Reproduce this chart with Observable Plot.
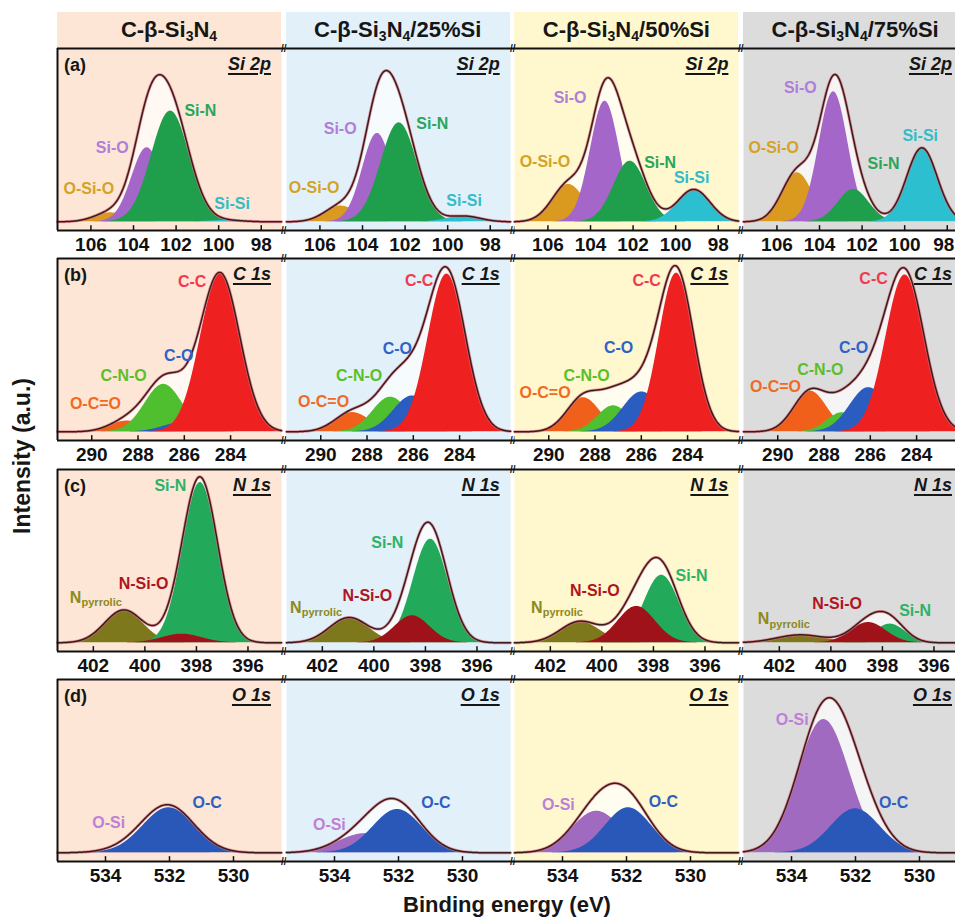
<!DOCTYPE html>
<html>
<head>
<meta charset="utf-8">
<script src="https://cdn.jsdelivr.net/npm/d3@7"></script>
<script src="https://cdn.jsdelivr.net/npm/@observablehq/plot@0.6"></script>
<style>
  body { margin: 0; background: #fff; }
  #fig { position: relative; width: 955px; height: 919px; overflow: hidden;
         font-family: "Liberation Sans", Arial, sans-serif; color: #161616; }
  #fig svg { max-width: none; }
  .hdr { position: absolute; top: 12px; height: 36px; line-height: 36px; text-align: center;
         font-weight: bold; font-size: 22px; white-space: nowrap; }
  .hdr sub { font-size: 14px; vertical-align: -4px; line-height: 0; }
  .tag { position: absolute; font-weight: bold; font-size: 18px; line-height: 20px; }
  .lvl { position: absolute; font-weight: bold; font-style: italic; font-size: 18px; line-height: 20px;
         text-align: right; text-decoration: underline; text-decoration-thickness: 2px;
         text-underline-offset: 3px; white-space: nowrap; }
  .panel { position: absolute; }
  .axlab { position: absolute; font-weight: bold; font-size: 22px; white-space: nowrap; }
</style>
</head>
<body>
<div id="fig"></div>
<script>
// Samples (columns) and core levels (rows)
const sampleNames = ["C-β-Si3N4", "C-β-Si3N4/25%Si", "C-β-Si3N4/50%Si", "C-β-Si3N4/75%Si"];
const sampleColors = ["#fde6d5", "#e2f0fa", "#fff7cd", "#dcdcdc"];
const coreLevels = ["Si 2p", "C 1s", "N 1s", "O 1s"];
const panelTags = ["(a)", "(b)", "(c)", "(d)"];

// Binding-energy window of each row (eV, high to low) and its tick labels
const energyDomains = [[107.57, 97.05], [291.48, 281.8], [403.39, 394.7], [535.5, 528.5]];
const tickValues = [[106, 104, 102, 100, 98], [290, 288, 286, 284], [402, 400, 398, 396], [534, 532, 530]];

// Fitted components: [sample, component, centre (eV), height (a.u.), FWHM (eV)]
const si2pPeaks = [
  [0, "O-Si-O", 105.08, 5.2, 1.8], [0, "Si-O", 103.36, 42.7, 1.7], [0, "Si-N", 102.26, 63.9, 2.1], [0, "Si-Si", 99.6, 0.8, 1.8],
  [1, "O-Si-O", 105.02, 9.1, 1.8], [1, "Si-O", 103.3, 51, 1.65], [1, "Si-N", 102.28, 57.1, 2.0], [1, "Si-Si", 99.23, 3.3, 1.8],
  [2, "O-Si-O", 105.04, 21.6, 1.8], [2, "Si-O", 103.32, 69.6, 1.6], [2, "Si-N", 102.14, 35, 1.8], [2, "Si-Si", 99.15, 18.7, 1.8],
  [3, "O-Si-O", 105.05, 28.3, 1.7], [3, "Si-O", 103.34, 75, 1.6], [3, "Si-N", 102.4, 18.7, 1.7], [3, "Si-Si", 99.19, 42.7, 1.7]
];
const c1sPeaks = [
  [0, "O-C=O", 288.47, 6.2, 1.8], [0, "C-N-O", 286.89, 27.4, 1.9], [0, "C-O", 286.09, 5.3, 1.9], [0, "C-C", 284.45, 91, 2.0],
  [1, "O-C=O", 288.63, 11.1, 1.8], [1, "C-N-O", 286.98, 20, 1.8], [1, "C-O", 286.04, 20.7, 1.9], [1, "C-C", 284.55, 91, 1.9],
  [2, "O-C=O", 288.5, 19.7, 1.7], [2, "C-N-O", 287.2, 15, 1.6], [2, "C-O", 285.98, 23, 1.9], [2, "C-C", 284.48, 91.5, 1.75],
  [3, "O-C=O", 288.59, 23.5, 1.7], [3, "C-N-O", 287.22, 11, 1.5], [3, "C-O", 286.07, 25.5, 1.9], [3, "C-C", 284.5, 90.5, 1.95]
];
const n1sPeaks = [
  [0, "N pyrrolic", 400.82, 18.9, 1.75], [0, "Si-N", 397.85, 92.5, 1.6], [0, "N-Si-O", 398.56, 5, 1.8],
  [1, "N pyrrolic", 400.96, 14.6, 1.8], [1, "Si-N", 397.8, 59.8, 1.6], [1, "N-Si-O", 398.51, 15.6, 1.6],
  [2, "N pyrrolic", 400.85, 12.3, 1.8], [2, "Si-N", 397.68, 39, 1.6], [2, "N-Si-O", 398.65, 21, 1.7],
  [3, "N pyrrolic", 401.18, 4.6, 2.2], [3, "Si-N", 397.7, 10.8, 1.4], [3, "N-Si-O", 398.54, 11.7, 1.6]
];
const o1sPeaks = [
  [0, "O-Si", 532.9, 2.9, 2.0], [0, "O-C", 532.02, 26, 1.9],
  [1, "O-Si", 533.02, 11.1, 2.0], [1, "O-C", 532.03, 25, 1.8],
  [2, "O-Si", 532.93, 24, 1.8], [2, "O-C", 531.94, 26, 1.7],
  [3, "O-Si", 532.99, 76.9, 1.9], [3, "O-C", 532.0, 25.4, 1.8]
];

// Component annotations: [sample, text, energy (eV), intensity (a.u.)]
const si2pLabels = [
  [0, "Si-N", 100.86, 64], [0, "Si-O", 105.0, 42.9], [0, "O-Si-O", 106.1, 18.9], [0, "Si-Si", 99.37, 10.2],
  [1, "Si-O", 105.05, 53.8], [1, "Si-N", 100.72, 56.7], [1, "O-Si-O", 106.27, 19.8], [1, "Si-Si", 99.23, 12.1],
  [2, "Si-O", 104.96, 71.7], [2, "O-Si-O", 106.14, 34.8], [2, "Si-N", 100.73, 34.2], [2, "Si-Si", 99.25, 25.4],
  [3, "Si-O", 104.9, 77.1], [3, "O-Si-O", 106.15, 42.9], [3, "Si-N", 100.99, 33.2], [3, "Si-Si", 99.27, 49.5]
];
const c1sLabels = [
  [0, "C-C", 285.66, 86.7], [0, "C-O", 286.24, 43.7], [0, "C-N-O", 288.62, 32.2], [0, "O-C=O", 289.84, 15.9],
  [1, "C-C", 285.75, 87], [1, "C-O", 286.69, 47.6], [1, "C-N-O", 288.34, 32.2], [1, "O-C=O", 289.88, 17.2],
  [2, "C-C", 285.77, 87], [2, "C-O", 286.98, 48.2], [2, "C-N-O", 288.36, 32.2], [2, "O-C=O", 290.16, 22.2],
  [3, "C-C", 285.86, 88], [3, "C-O", 286.72, 48.6], [3, "C-N-O", 288.16, 36], [3, "O-C=O", 290.1, 25.9]
];
const n1sLabels = [
  [0, "Si-N", 399.01, 90.6], [0, "N-Si-O", 400.05, 33.9], [0, "N_pyrrolic", 402.69, 26.1],
  [1, "Si-N", 399.48, 57.9], [1, "N-Si-O", 400.25, 27.1], [1, "N_pyrrolic", 403.03, 20.4],
  [2, "Si-N", 396.52, 38.7], [2, "N-Si-O", 400.27, 30], [2, "N_pyrrolic", 402.53, 20.4],
  [3, "Si-N", 396.73, 18.5], [3, "N-Si-O", 399.76, 22.3], [3, "N_pyrrolic", 402.61, 13.7]
];
const o1sLabels = [
  [0, "O-C", 530.82, 29], [0, "O-Si", 533.9, 17.1],
  [1, "O-C", 530.83, 29], [1, "O-Si", 534.16, 16],
  [2, "O-Si", 534.13, 27.5], [2, "O-C", 530.85, 29.2],
  [3, "O-Si", 533.98, 76.7], [3, "O-C", 530.81, 29]
];

// Fill and annotation colours of each component, per core level
const fillColors = [
  {"O-Si-O": "#d99a1f", "Si-O": "#a566c9", "Si-N": "#1f9f4b", "Si-Si": "#2cbfd0"},
  {"O-C=O": "#f0601a", "C-N-O": "#4fbf30", "C-O": "#2b5cbf", "C-C": "#ee2020"},
  {"N pyrrolic": "#7d781c", "Si-N": "#22aa5a", "N-Si-O": "#a0121a"},
  {"O-Si": "#a06ac0", "O-C": "#2a58b8"}
];
const labelColors = [
  {"O-Si-O": "#d4a326", "Si-O": "#b07ed8", "Si-N": "#2aa65a", "Si-Si": "#33bcc8"},
  {"O-C=O": "#f06a25", "C-N-O": "#5cbf2a", "C-O": "#2f62c8", "C-C": "#f03a50"},
  {"N_pyrrolic": "#8c8a22", "Si-N": "#2db368", "N-Si-O": "#b0141e"},
  {"O-Si": "#c07fd6", "O-C": "#2f5fc0"}
];

const levelPeaks = [si2pPeaks, c1sPeaks, n1sPeaks, o1sPeaks];
const levelLabels = [si2pLabels, c1sLabels, n1sLabels, o1sLabels];

// Grid layout of the panels (px)
const COL_X0 = 57, COL_PITCH = 228.7, PANEL_W = 224;
const ROW_Y0 = 48, ROW_PITCH = 210.3, PANEL_H = 182, AXIS_H = 34;
const Y_DOMAIN = [-5, 100];
const PAGE_W = 955;
const TICK_FONT = 19;
const FONT = "Liberation Sans, Arial, sans-serif";

const fig = document.getElementById("fig");

function addDiv(cls, html, style) {
  const d = document.createElement("div");
  d.className = cls;
  d.innerHTML = html;
  Object.assign(d.style, style);
  fig.appendChild(d);
  return d;
}

// Gaussian line shape of a fitted component
function lineShape(e, centre, height, fwhm) {
  return height * Math.exp(-4 * Math.LN2 * (e - centre) ** 2 / (fwhm * fwhm));
}

// Column headers
sampleNames.forEach((name, s) => {
  const html = name.replace("Si3N4", "Si<sub>3</sub>N<sub>4</sub>");
  addDiv("hdr", html, {left: (COL_X0 + s * COL_PITCH) + "px", width: PANEL_W + "px", background: sampleColors[s]});
});

coreLevels.forEach((level, r) => {
  const [e0, e1] = energyDomains[r];
  const evPerPx = (e0 - e1) / PANEL_W;
  const eGapEnd = e0 - COL_PITCH * evPerPx;
  const eGapMid = e0 - (PANEL_W + COL_PITCH) / 2 * evPerPx;
  const grid = d3.range(0, 501).map(i => e0 + (e1 - e0) * i / 500);

  sampleNames.forEach((_, s) => {
    const colLeft = COL_X0 + s * COL_PITCH;
    const peaks = levelPeaks[r].filter(p => p[0] === s);
    const comps = peaks.map(([, name, c, h, w]) => ({
      name, pts: grid.map(e => ({e, v: lineShape(e, c, h, w)}))
    }));
    const envelope = grid.map(e => ({e, v: d3.sum(peaks, p => lineShape(e, p[2], p[3], p[4]))}));

    const labels = levelLabels[r].filter(l => l[0] === s).map(([, text, e, v]) => ({text, e, v}));
    const mainLabels = labels.map(d => ({...d, main: d.text.split("_")[0]}));
    const subLabels = labels.filter(d => d.text.includes("_")).map(d => ({...d, sub: d.text.split("_")[1]}));

    // tick labels that would run past the page edge are nudged back inside it
    const overflowOf = t => colLeft + (e0 - t) / evPerPx + String(t).length * 0.556 * TICK_FONT / 2 - (PAGE_W - 1);
    const ticksIn = tickValues[r].filter(t => overflowOf(t) <= 0);
    const ticksOut = tickValues[r].filter(t => overflowOf(t) > 0);
    const axisOpts = {tickSize: 0, tickPadding: 7, fontSize: TICK_FONT, fontWeight: "bold", fill: "#111", label: null};

    const marks = [
      Plot.frame({fill: sampleColors[s], stroke: null}),
      Plot.areaY(envelope, {x: "e", y: "v", fill: "#ffffff", fillOpacity: 0.7}),
      ...comps.map(c => Plot.areaY(c.pts, {x: "e", y: "v", fill: fillColors[r][c.name]})),
      Plot.line(envelope, {x: "e", y: "v", stroke: "#d8707e", strokeWidth: 3, strokeOpacity: 0.7}),
      Plot.line(envelope, {x: "e", y: "v", stroke: "#3b1b1c", strokeWidth: 1.5}),
      Plot.ruleY([Y_DOMAIN[1], Y_DOMAIN[0]], {x1: e0, x2: eGapEnd, stroke: "#111", strokeWidth: 2}),
      s === 0 ? Plot.ruleX([e0], {y1: Y_DOMAIN[0], y2: Y_DOMAIN[1], stroke: "#111", strokeWidth: 2}) : null,
      s < 3 ? Plot.text([Y_DOMAIN[1], Y_DOMAIN[0]], {x: eGapMid, y: d => d, text: () => "//", fontSize: 10,
                fontWeight: "bold", fill: "#111"}) : null,
      Plot.ruleX(tickValues[r], {y1: Y_DOMAIN[0], y2: Y_DOMAIN[0] + 2.8, stroke: "#111", strokeWidth: 1.5}),
      Plot.axisX(ticksIn, axisOpts),
      ...ticksOut.map(t => Plot.axisX([t], {...axisOpts, dx: -overflowOf(t)})),
      Plot.text(mainLabels, {x: "e", y: "v", text: "main", fill: d => labelColors[r][d.text],
                fontSize: 16, fontWeight: "bold", textAnchor: "middle"}),
      Plot.text(subLabels, {x: "e", y: "v", text: "sub", fill: d => labelColors[r][d.text],
                fontSize: 11, fontWeight: "bold", textAnchor: "start", dx: 6, dy: 5})
    ].filter(Boolean);

    const svg = Plot.plot({
      width: COL_PITCH, height: PANEL_H + AXIS_H,
      marginLeft: 0, marginRight: COL_PITCH - PANEL_W, marginTop: 0, marginBottom: AXIS_H,
      x: {domain: [e0, e1], label: null},
      y: {domain: Y_DOMAIN, axis: null},
      color: {type: "identity"},
      style: {background: "transparent", overflow: "visible", fontFamily: FONT, fontWeight: "bold"},
      marks
    });
    const holder = addDiv("panel", "", {left: colLeft + "px", top: (ROW_Y0 + r * ROW_PITCH) + "px",
                                        width: COL_PITCH + "px"});
    holder.appendChild(svg);

    if (s === 0) addDiv("tag", panelTags[r], {left: (COL_X0 + 7) + "px", top: (ROW_Y0 + r * ROW_PITCH + 7) + "px"});
    // corner title, kept inside the page on the last column
    const rightEdge = Math.min(colLeft + PANEL_W - 10, PAGE_W - 3);
    addDiv("lvl", level, {left: colLeft + "px", width: (rightEdge - colLeft) + "px",
                          top: (ROW_Y0 + r * ROW_PITCH + 6) + "px"});
  });
});

// Shared axis titles
addDiv("axlab", "Intensity (a.u.)", {left: "22px", top: "456px", fontSize: "23px",
                                     transform: "translate(-50%, -50%) rotate(-90deg)"});
addDiv("axlab", "Binding energy (eV)", {left: "507px", top: "905px", transform: "translate(-50%, -50%)"});
</script>
</body>
</html>
